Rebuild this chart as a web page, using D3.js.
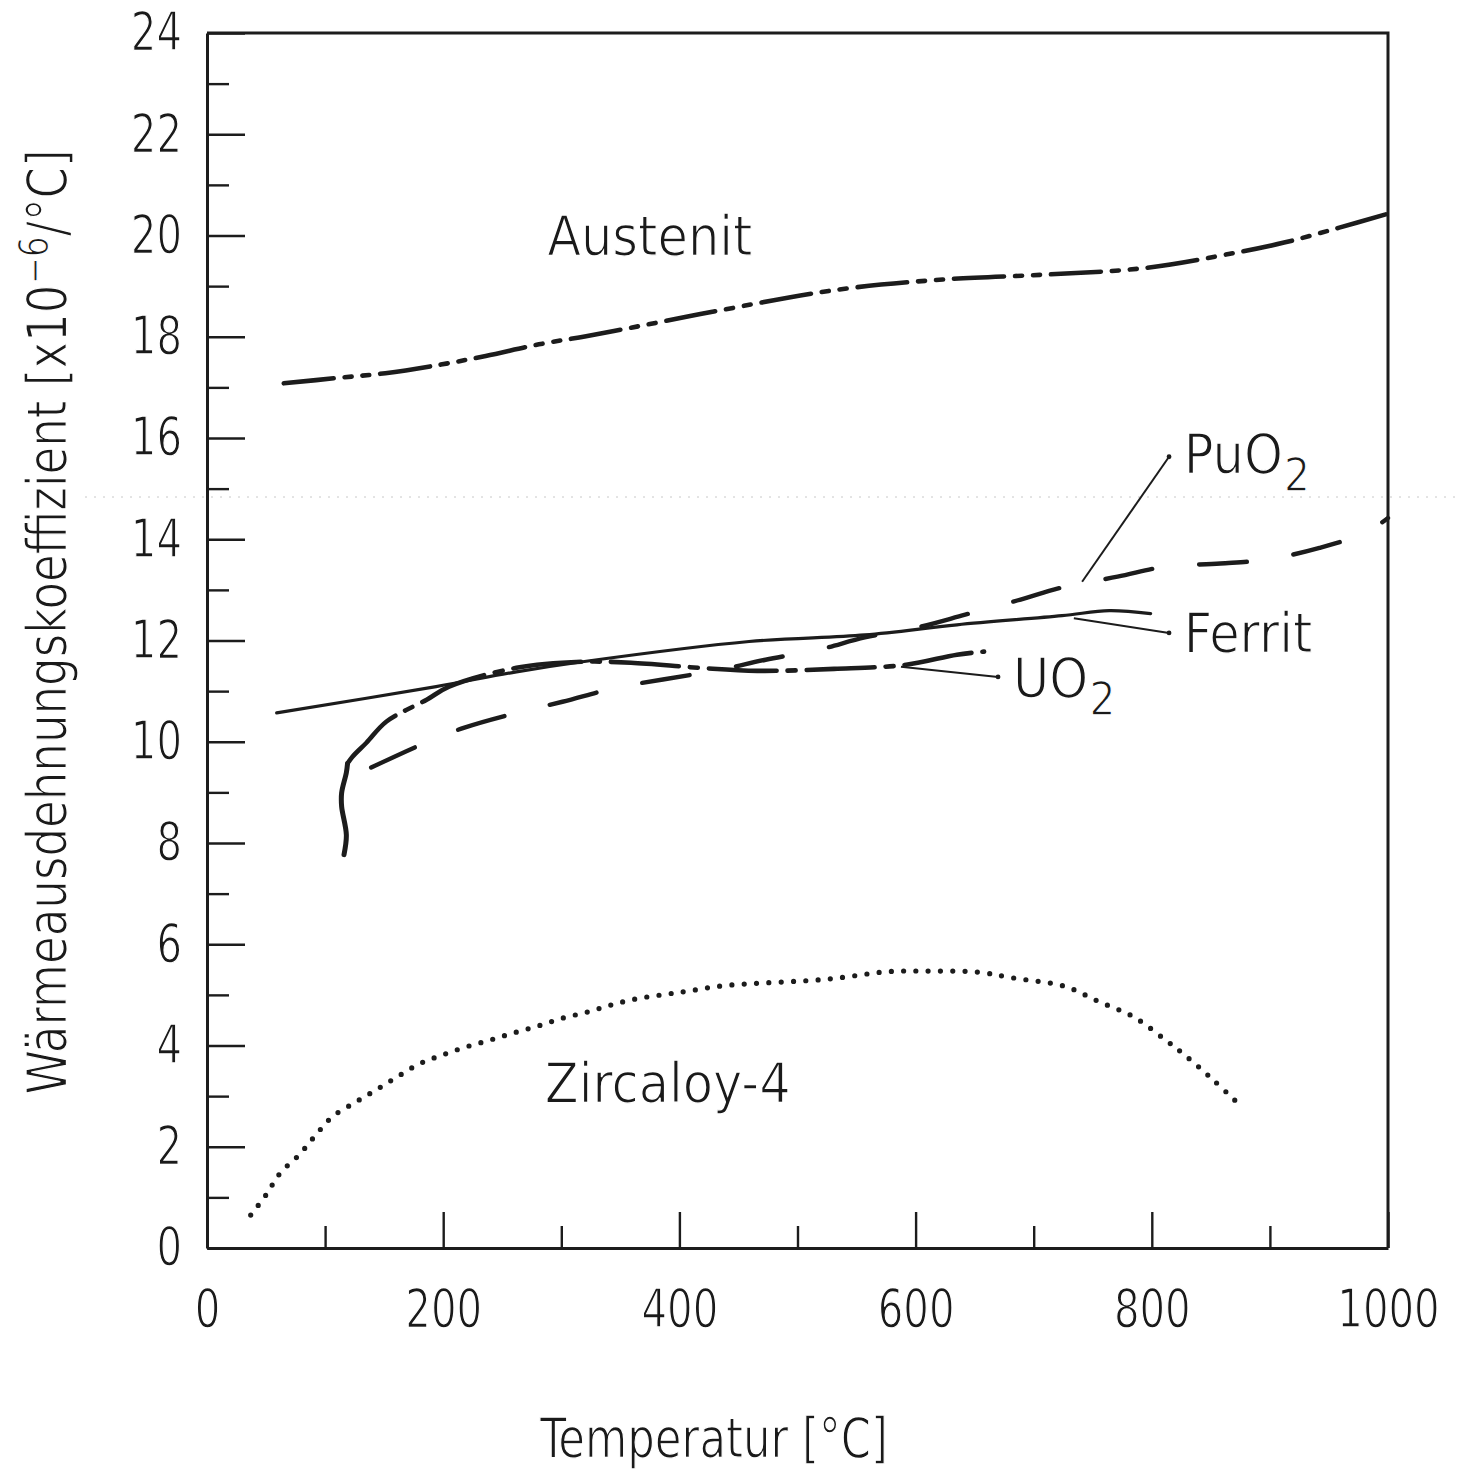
<!DOCTYPE html>
<html>
<head>
<meta charset="utf-8">
<script src="https://cdn.jsdelivr.net/npm/d3@7"></script>
<style>
  body { margin: 0; background: #fff; }
  svg { display: block; }
  .txt {
    font-family: "Liberation Sans Narrow", "DejaVu Sans Condensed", "Liberation Sans", sans-serif;
    fill: #1a1a1a;
    stroke: #fff;
    stroke-width: 1.3px;
  }
</style>
</head>
<body>
<svg id="chart" width="1458" height="1470"></svg>
<script>
// Thermal expansion coefficient [x10^-6 /°C] versus temperature [°C]
const austenit = [
  [65, 17.08], [112, 17.19], [151, 17.28], [198, 17.45], [236, 17.62], [281, 17.85],
  [321, 18.01], [366, 18.21], [407, 18.40], [434, 18.52], [534, 18.93], [623, 19.13],
  [712, 19.23], [795, 19.36], [871, 19.66], [912, 19.86], [958, 20.15], [1000, 20.43]
];
const puo2 = [
  [139, 9.49], [181, 9.94], [218, 10.28], [262, 10.57], [301, 10.79], [347, 11.07],
  [386, 11.23], [434, 11.42], [473, 11.62], [518, 11.82], [557, 12.06], [600, 12.25],
  [642, 12.51], [686, 12.79], [726, 13.06], [771, 13.26], [812, 13.46], [858, 13.52],
  [898, 13.60], [942, 13.83], [981, 14.13], [1000, 14.42]
];
const ferrit = [
  [59, 10.57], [194, 11.09], [262, 11.38], [318, 11.58], [459, 11.98], [557, 12.11],
  [635, 12.31], [724, 12.49], [764, 12.59], [799, 12.53]
];
const uo2 = [
  [116, 7.77], [118, 8.16], [114, 8.72], [114, 8.99], [118, 9.39], [119, 9.57],
  [123, 9.70], [135, 9.98], [152, 10.40], [186, 10.83], [205, 11.09], [262, 11.46],
  [318, 11.58], [359, 11.56], [417, 11.46], [466, 11.40], [531, 11.44], [592, 11.52],
  [635, 11.72], [658, 11.78]
];
const zircaloy = [
  [37, 0.65], [50, 1.05], [62, 1.48], [78, 1.84], [92, 2.23], [106, 2.59], [125, 2.87],
  [143, 3.12], [161, 3.38], [180, 3.64], [199, 3.81], [219, 3.97], [240, 4.11], [260, 4.25],
  [281, 4.39], [301, 4.54], [322, 4.66], [342, 4.80], [363, 4.92], [385, 5.00], [406, 5.07],
  [437, 5.18], [525, 5.31], [577, 5.46], [609, 5.47], [652, 5.45], [684, 5.33], [726, 5.17],
  [755, 4.87], [785, 4.56], [811, 4.12], [828, 3.81], [852, 3.32], [876, 2.79]
];

const xMajorTicks = [0, 200, 400, 600, 800, 1000];
const xMinorTicks = [100, 300, 500, 700, 900];
const yMajorTicks = [0, 2, 4, 6, 8, 10, 12, 14, 16, 18, 20, 22, 24];
const yMinorTicks = [1, 3, 5, 7, 9, 11, 13, 15, 17, 19, 21, 23];

// curve labels: text, anchor position (temperature, coefficient) and subscript
const curveLabels = [
  { text: "Austenit",   sub: "",  at: [288, 19.61] },
  { text: "Zircaloy-4", sub: "",  at: [286, 2.88] },
  { text: "PuO",        sub: "2", at: [827, 15.31] },
  { text: "Ferrit",     sub: "",  at: [827, 11.77] },
  { text: "UO",         sub: "2", at: [682.5, 10.88] }
];
// leader lines from each curve to its label
const leaders = [
  [[741, 13.16], [814.6, 15.63]],
  [[734, 12.44], [814.6, 12.15]],
  [[587.6, 11.48], [669.8, 11.28]]
];

const svg = d3.select("#chart");
const x = d3.scaleLinear().domain([0, 1000]).range([207, 1388]);
const y = d3.scaleLinear().domain([0, 24]).range([1248, 33]);
const ink = "#1c1c1c";
const font = '"Liberation Sans Narrow", "DejaVu Sans Condensed", "Liberation Sans", sans-serif';

// faint horizontal streak across the sheet
svg.append("line")
  .attr("x1", 85).attr("x2", 1458).attr("y1", 497).attr("y2", 497)
  .attr("stroke", "#c8c8c8").attr("stroke-width", 1).attr("stroke-dasharray", "2 7");

// axes
function styleAxis(g, fontSize) {
  g.select(".domain").attr("stroke", ink).attr("stroke-width", 3);
  g.selectAll(".tick line").attr("stroke", ink).attr("stroke-width", 2.4);
  g.selectAll(".tick text")
    .attr("class", "txt")
    .attr("font-family", font)
    .attr("font-size", fontSize)
    .attr("textLength", function () { return this.textContent.length * 25.6; })
    .attr("lengthAdjust", "spacingAndGlyphs");
  g.attr("font-family", null).attr("font-size", null);
}

const gxMajor = svg.append("g").attr("transform", `translate(0,${y(0)})`)
  .call(d3.axisBottom(x).tickValues(xMajorTicks).tickSize(-36).tickSizeOuter(0)
    .tickPadding(41).tickFormat(d3.format("d")));
styleAxis(gxMajor, 53);
const gxMinor = svg.append("g").attr("transform", `translate(0,${y(0)})`)
  .call(d3.axisBottom(x).tickValues(xMinorTicks).tickSize(-22).tickSizeOuter(0).tickFormat(""));
gxMinor.select(".domain").remove();
gxMinor.selectAll(".tick line").attr("stroke", ink).attr("stroke-width", 2.4);

const gyMajor = svg.append("g").attr("transform", `translate(${x(0)},0)`)
  .call(d3.axisLeft(y).tickValues(yMajorTicks).tickSize(-38).tickSizeOuter(0)
    .tickPadding(25).tickFormat(d3.format("d")));
styleAxis(gyMajor, 53);
const gyMinor = svg.append("g").attr("transform", `translate(${x(0)},0)`)
  .call(d3.axisLeft(y).tickValues(yMinorTicks).tickSize(-22).tickSizeOuter(0).tickFormat(""));
gyMinor.select(".domain").remove();
gyMinor.selectAll(".tick line").attr("stroke", ink).attr("stroke-width", 2.4);

// top and right frame
svg.append("path")
  .attr("d", `M${x(0)},${y(24)}H${x(1000)}V${y(0)}`)
  .attr("fill", "none").attr("stroke", ink).attr("stroke-width", 3);

// curves
const line = d3.line().x(d => x(d[0])).y(d => y(d[1])).curve(d3.curveCatmullRom.alpha(0.5));
function curve(data, width, dash) {
  svg.append("path").datum(data)
    .attr("d", line)
    .attr("fill", "none")
    .attr("stroke", ink)
    .attr("stroke-width", width)
    .attr("stroke-linecap", "round")
    .attr("stroke-linejoin", "round")
    .attr("stroke-dasharray", dash);
}
curve(austenit, 4.6, "50 11 7 11 7 11");
curve(ferrit, 3.2, null);
curve(puo2, 4.4, "48 47");
curve(uo2.filter(d => d[1] <= 9.57), 5, null);
curve(uo2.filter(d => d[1] >= 9.57), 4.6, "68 11 8 11");
curve(zircaloy, 5.2, "0 12.3");

// leader lines with end dots
leaders.forEach(([a, b]) => {
  svg.append("line")
    .attr("x1", x(a[0])).attr("y1", y(a[1]))
    .attr("x2", x(b[0])).attr("y2", y(b[1]))
    .attr("stroke", ink).attr("stroke-width", 2);
  svg.append("circle").attr("cx", x(b[0])).attr("cy", y(b[1])).attr("r", 2.4).attr("fill", ink);
});

// curve labels
curveLabels.forEach(l => {
  const t = svg.append("text").attr("class", "txt")
    .attr("x", x(l.at[0])).attr("y", y(l.at[1]))
    .attr("font-size", 55)
    .text(l.text);
  if (l.sub) {
    t.append("tspan").attr("dx", 1).attr("dy", 18).attr("font-size", 46).text(l.sub);
  }
});

// axis titles
svg.append("text").attr("class", "txt")
  .attr("x", 714).attr("y", 1457)
  .attr("text-anchor", "middle")
  .attr("font-size", 55)
  .attr("textLength", 348).attr("lengthAdjust", "spacingAndGlyphs")
  .text("Temperatur [°C]");

const yt = svg.append("text").attr("class", "txt")
  .attr("transform", "translate(66,622) rotate(-90)")
  .attr("text-anchor", "middle")
  .attr("font-size", 55)
  .attr("textLength", 945).attr("lengthAdjust", "spacingAndGlyphs");
yt.append("tspan").text("Wärmeausdehnungskoeffizient [x10");
yt.append("tspan").attr("dy", -18).attr("font-size", 40).text("−6");
yt.append("tspan").attr("dy", 18).text("/°C]");
</script>
</body>
</html>
